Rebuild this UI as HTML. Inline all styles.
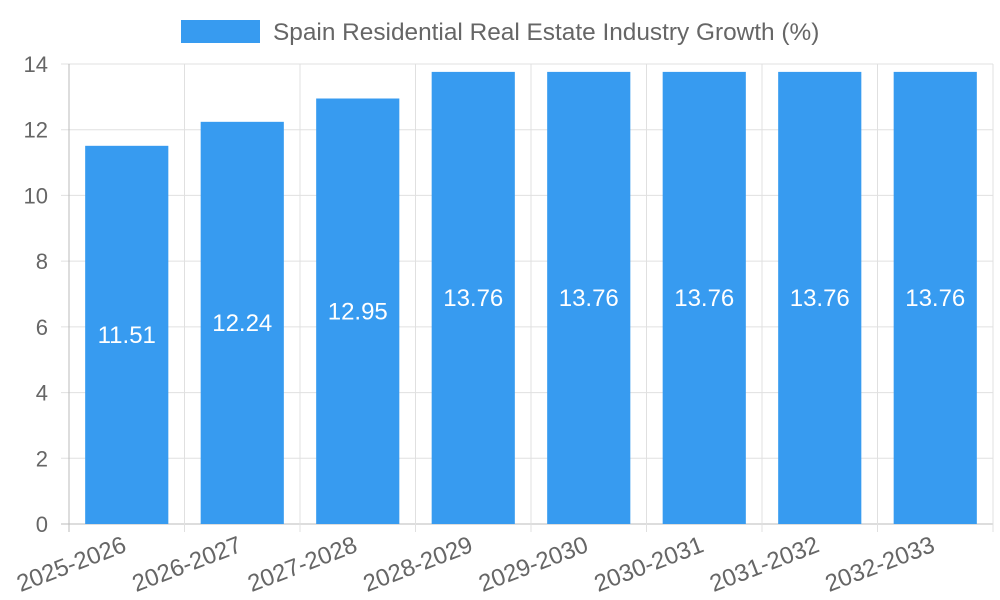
<!DOCTYPE html>
<html><head><meta charset="utf-8">
<style>html,body{margin:0;padding:0;background:#fff;}svg{display:block;font-family:"Liberation Sans",sans-serif;}</style>
</head><body>
<svg id="chart" width="1000" height="600" viewBox="0 0 1000 600" xmlns="http://www.w3.org/2000/svg">
<g id="legend">
<rect x="181" y="20" width="79" height="23" fill="#379bf0"/>
<text x="273" y="40" font-size="24.4" fill="#666">Spain Residential Real Estate Industry Growth (%)</text>
</g>
<g id="grid"></g><g id="bars"></g><g id="labels"></g>
</svg>
<script>
const categories=["2025-2026","2026-2027","2027-2028","2028-2029","2029-2030","2030-2031","2031-2032","2032-2033"];
const growthValues=[11.51,12.24,12.95,13.76,13.76,13.76,13.76,13.76];
const yTicks=[0,2,4,6,8,10,12,14];
const NS="http://www.w3.org/2000/svg";
const L=69,R=993,T=64,B=524,yMax=14;
const y=v=>B-(v/yMax)*(B-T);
const bw=(R-L)/categories.length;
const x=i=>L+i*bw;
function mk(tag,attrs,parent,txt){const e=document.createElementNS(NS,tag);for(const k in attrs)e.setAttribute(k,attrs[k]);if(txt!==undefined)e.textContent=txt;parent.appendChild(e);return e;}
const grid=document.getElementById('grid'),bars=document.getElementById('bars'),labels=document.getElementById('labels');
yTicks.forEach(t=>{
 const g=mk('line',{x1:L-8,x2:R,y1:y(t),y2:y(t),stroke:t===0?'#bbb':'#e0e0e0','stroke-width':1},grid);
 
 
 const tl=mk('text',{x:L-21,y:y(t)+8,'text-anchor':'end','font-size':22,fill:'#666'},labels,String(t));
 
 
});
for(let i=0;i<=categories.length;i++){
 const g=mk('line',{x1:x(i),x2:x(i),y1:T,y2:B+8,stroke:i===0?'#bbb':'#e0e0e0','stroke-width':1},grid);
 
 
}
categories.forEach((c,i)=>{
 const v=growthValues[i];
 const w=bw*0.72,cx=x(i)+bw/2;
 const r=mk('rect',{x:cx-w/2,y:y(v),width:w,height:B-y(v),fill:'#379bf0'},bars);
 
 
 const vl=mk('text',{x:cx,y:(y(v)+B)/2+8,'text-anchor':'middle','font-size':24,fill:'#fff'},labels,v.toFixed(2));
 
 
 const ax=cx+1,ay=B+27;
 const xl=mk('text',{x:ax,y:ay,'text-anchor':'end','font-size':24,fill:'#666',transform:`rotate(-21 ${ax} ${ay})`},labels,c);
 
 
});
</script>
</body></html>
